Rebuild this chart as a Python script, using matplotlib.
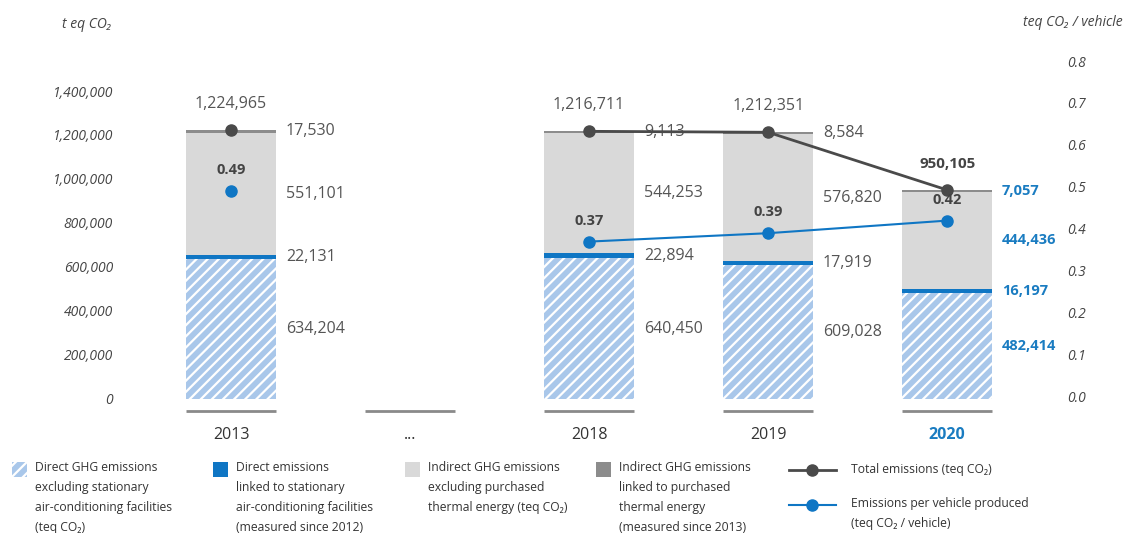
import numpy as np
import matplotlib.pyplot as plt
from matplotlib.patches import Rectangle
from matplotlib.lines import Line2D

plt.rcParams['font.family'] = ['Open Sans', 'DejaVu Sans']
plt.rcParams['hatch.linewidth'] = 1.6

# GHG emissions by year (t eq CO2)
slot_labels = ['2013', '...', '2018', '2019', '2020']
years = ['2013', '2018', '2019', '2020']
year_pos = [0, 2, 3, 4]
direct_excl_ac = [634204, 640450, 609028, 482414]
direct_ac = [22131, 22894, 17919, 16197]
indirect_excl_thermal = [551101, 544253, 576820, 444436]
indirect_thermal = [17530, 9113, 8584, 7057]
totals = [1224965, 1216711, 1212351, 950105]
per_vehicle = [0.49, 0.37, 0.39, 0.42]

HATCH_BG = '#a9c7ea'
BLUE = '#0f76c4'
LIGHT = '#d9d9d9'
DARK = '#8c8c8c'
LINE_DARK = '#4a4a4a'
HIGHLIGHT = '#1a7cc1'
TEXT = '#555555'

fig = plt.figure(figsize=(11.25, 5.33), dpi=100)
ax = fig.add_axes([120 / 1125, 113 / 533, 940 / 1125, 375 / 533])
ax2 = ax.twinx()

width = 0.5
x = np.array(year_pos)
b1 = np.array(direct_excl_ac)
b2 = b1 + np.array(direct_ac)
b3 = b2 + np.array(indirect_excl_thermal)

ax.bar(x, direct_excl_ac, width, color=HATCH_BG, edgecolor='white', linewidth=0, hatch='///')
ax.bar(x, direct_ac, width, bottom=b1, color=BLUE, linewidth=0)
ax.bar(x, indirect_excl_thermal, width, bottom=b2, color=LIGHT, linewidth=0)
ax.bar(x, indirect_thermal, width, bottom=b3, color=DARK, linewidth=0)

# base line under every slot, including the gap
slots = np.arange(len(slot_labels))
ax.hlines([-55000] * len(slots), slots - width / 2, slots + width / 2, color='#8a8a8a', lw=2)

# segment labels to the right of each bar
for i in range(len(years)):
    last = years[i] == '2020'
    col = HIGHLIGHT if last else TEXT
    fw = 'bold' if last else 'normal'
    fs = 10.5 if last else 11.5
    mids = [b1[i] / 2, b1[i] + direct_ac[i] / 2, b2[i] + indirect_excl_thermal[i] / 2,
            b3[i] + indirect_thermal[i] / 2]
    vals = [direct_excl_ac[i], direct_ac[i], indirect_excl_thermal[i], indirect_thermal[i]]
    for m, v in zip(mids, vals):
        ax.annotate(f'{v:,}', (x[i] + width / 2, m), xytext=(10, 0), textcoords='offset pixels',
                    ha='left', va='center', color=col, fontsize=fs, fontweight=fw)

# total emissions
ax.plot(x[1:], totals[1:], color=LINE_DARK, lw=2, marker='o', ms=8, zorder=5)
ax.plot(x[:1], totals[:1], color=LINE_DARK, lw=0, marker='o', ms=8, zorder=5)
for i in range(len(years)):
    last = years[i] == '2020'
    ax.annotate(f'{totals[i]:,}', (x[i], totals[i]), xytext=(0, 26), textcoords='offset pixels',
                ha='center', va='center', color='#444444' if last else TEXT,
                fontsize=11 if last else 11.5, fontweight='bold' if last else 'normal')

# emissions per vehicle
ax2.plot(x[1:], per_vehicle[1:], color=BLUE, lw=1.5, marker='o', ms=8, zorder=5)
ax2.plot(x[:1], per_vehicle[:1], color=BLUE, lw=0, marker='o', ms=8, zorder=5)
for i in range(len(years)):
    ax2.annotate(f'{per_vehicle[i]:.2f}', (x[i], per_vehicle[i]), xytext=(0, 21),
                 textcoords='offset pixels', ha='center', va='center', color='#444444',
                 fontsize=10.5, fontweight='bold')

ax.set_xlim(-0.62, 4.63)
ax.set_ylim(-95455, 1609091)
ax2.set_ylim(-0.0548, 0.8381)

ax.set_yticks(np.arange(0, 1400001, 200000))
ax.set_yticklabels([f'{v:,}' for v in range(0, 1400001, 200000)], fontstyle='italic',
                   color='#444444', fontsize=10)
ax2.set_yticks(np.arange(0, 0.81, 0.1))
ax2.set_yticklabels([f'{v:.1f}' for v in np.arange(0, 0.81, 0.1)], fontstyle='italic',
                    color='#444444', fontsize=10)
ax.set_xticks(slots)
ax.set_xticklabels(slot_labels, fontsize=11.5, color='#333333')
for lbl in ax.get_xticklabels():
    if lbl.get_text() == '2020':
        lbl.set_color(HIGHLIGHT)
        lbl.set_fontweight('bold')
ax.tick_params(axis='both', length=0)
ax.tick_params(axis='y', pad=5)
ax.tick_params(axis='x', pad=5)
ax2.tick_params(axis='y', length=0, pad=5)
for a in (ax, ax2):
    for s in a.spines.values():
        s.set_visible(False)

fig.text(112 / 1125, 1 - 25 / 533, 't eq CO₂', ha='right', va='center', fontstyle='italic',
         fontsize=10, color='#444444')
fig.text(1123 / 1125, 1 - 22 / 533, 'teq CO₂ / vehicle', ha='right', va='center',
         fontstyle='italic', fontsize=10, color='#444444')

# legend drawn in figure pixels
lax = fig.add_axes([0, 0, 1, 1])
lax.set_xlim(0, 1125)
lax.set_ylim(533, 0)
lax.axis('off')
lax.set_zorder(-1)

legend_items = [
    (12, 'Direct GHG emissions\nexcluding stationary\nair-conditioning facilities\n(teq CO₂)',
     dict(facecolor=HATCH_BG, edgecolor='white', linewidth=0, hatch='///')),
    (213, 'Direct emissions\nlinked to stationary\nair-conditioning facilities\n(measured since 2012)',
     dict(facecolor=BLUE, linewidth=0)),
    (405, 'Indirect GHG emissions\nexcluding purchased\nthermal energy (teq CO₂)',
     dict(facecolor=LIGHT, linewidth=0)),
    (596, 'Indirect GHG emissions\nlinked to purchased\nthermal energy\n(measured since 2013)',
     dict(facecolor=DARK, linewidth=0)),
]
for lx, txt, style in legend_items:
    lax.add_patch(Rectangle((lx, 462), 15, 15, **style))
    lax.text(lx + 23, 461, txt, ha='left', va='top', fontsize=8.7, color='#333333',
             linespacing=1.7)

lax.add_line(Line2D([789, 812, 836], [470, 470, 470], color=LINE_DARK, lw=2, marker='o',
                    ms=8, markevery=[1]))
lax.add_line(Line2D([789, 812, 836], [505, 505, 505], color=BLUE, lw=1.5, marker='o',
                    ms=8, markevery=[1]))
lax.text(851, 470, 'Total emissions (teq CO₂)', ha='left', va='center', fontsize=8.7,
         color='#333333')
lax.text(851, 497, 'Emissions per vehicle produced\n(teq CO₂ / vehicle)', ha='left', va='top',
         fontsize=8.7, color='#333333', linespacing=1.7)

fig.savefig('out.png', dpi=100)
